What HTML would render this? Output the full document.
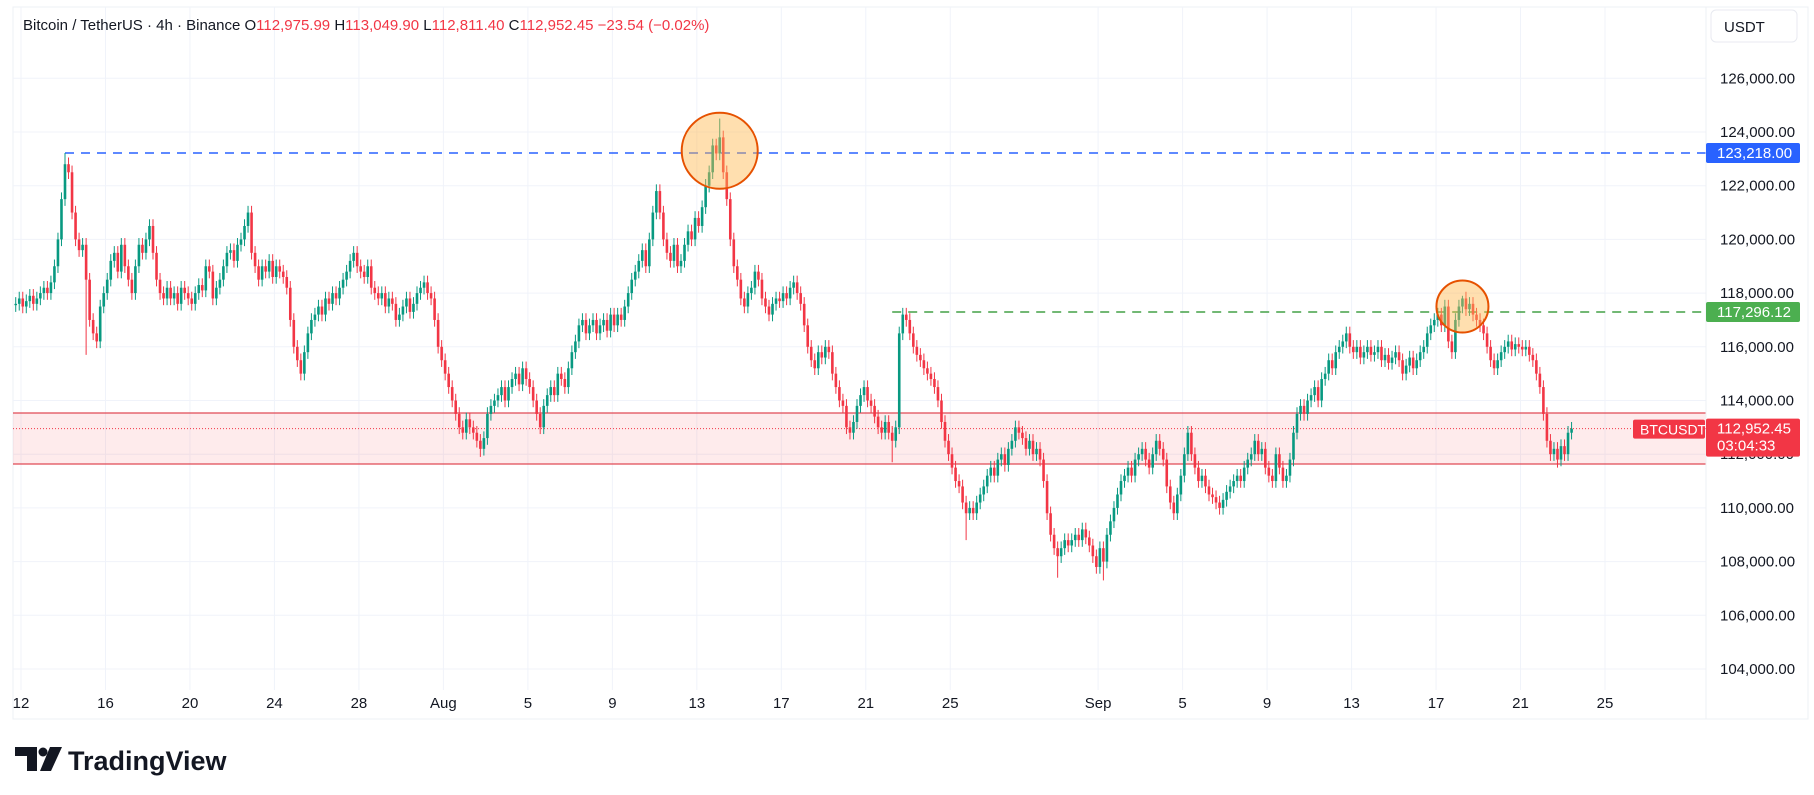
<!DOCTYPE html>
<html><head><meta charset="utf-8"><style>
html,body{margin:0;padding:0;background:#fff;}
body{width:1814px;height:795px;overflow:hidden;position:relative;font-family:"Liberation Sans",sans-serif;}
</style></head><body>
<svg id="chart" width="1814" height="795" xmlns="http://www.w3.org/2000/svg" style="position:absolute;left:0;top:0">
  <rect x="13" y="7" width="1795" height="712" fill="#fff" stroke="#eef0f4"/>
  <g id="grid"></g>
  <g id="zone"></g>
  <g id="levels"></g>
  <g id="candles"></g>
  <g id="marks"></g>
  <line x1="1706" y1="7" x2="1706" y2="719" stroke="#eef0f4"/>
  <g id="yaxis"></g>
  <g id="xaxis"></g>
  <rect x="1711" y="10" width="86" height="32" rx="5" fill="#fff" stroke="#e8eaf0"/>
  <text x="1724" y="32" font-size="15" fill="#131722">USDT</text>
  <text x="23" y="30" font-size="15" fill="#131722">Bitcoin / TetherUS · 4h · Binance <tspan fill="#131722">O</tspan><tspan fill="#f23645">112,975.99</tspan> <tspan fill="#131722">H</tspan><tspan fill="#f23645">113,049.90</tspan> <tspan fill="#131722">L</tspan><tspan fill="#f23645">112,811.40</tspan> <tspan fill="#131722">C</tspan><tspan fill="#f23645">112,952.45</tspan> <tspan fill="#f23645">−23.54 (−0.02%)</tspan></text>
  <g>
    <path d="M15 747 h22 v24 h-10 v-15 h-12 z" fill="#131722"/>
    <circle cx="43" cy="752" r="4.5" fill="#131722"/>
    <path d="M50 747 h12 l-11 24 h-11 z" fill="#131722"/>
    <text x="68" y="770" font-size="27" font-weight="bold" fill="#131722">TradingView</text>
  </g>
</svg>
<script>
// ---- data (prices in hundreds of USDT, 4h candles from Jul 11 16:00) ----
const closesJul11 = [1176,1178];
const dailyCloses = [
[1175,1177,1179,1176,1178,1180],[1182,1180,1184,1190,1200,1215],[1228,1225,1210,1200,1196,1198],
[1185,1170,1165,1162,1175,1180],[1185,1192,1195,1188,1198,1190],[1185,1180,1190,1198,1195,1200],
[1205,1195,1185,1180,1178,1182],[1178,1180,1176,1182,1180,1178],[1176,1180,1183,1181,1190,1188],
[1178,1182,1185,1190,1195,1196],[1192,1198,1200,1205,1210,1195],[1190,1185,1190,1188,1192,1186],
[1190,1188,1186,1182,1170,1160],[1155,1150,1158,1165,1170,1172],[1175,1172,1178,1176,1180,1178],
[1182,1185,1188,1192,1195,1190],[1188,1186,1190,1182,1180,1178],[1180,1175,1178,1176,1170,1172],
[1175,1178,1173,1176,1180,1182],[1184,1180,1178,1170,1160,1155],
[1150,1145,1140,1135,1130,1128],[1133,1130,1128,1125,1122,1126],[1135,1138,1140,1142,1145,1140],
[1145,1148,1150,1146,1152,1148],[1145,1140,1135,1130,1138,1142],[1145,1142,1150,1148,1145,1152],
[1158,1162,1168,1170,1165,1168],[1170,1165,1168,1170,1166,1172],[1168,1172,1170,1175,1180,1185],
[1188,1192,1196,1190,1200,1210],[1218,1210,1200,1195,1192,1198],[1190,1192,1198,1203,1200,1208],
[1205,1212,1220,1225,1235,1232],[1238,1225,1215,1200,1190,1185],[1178,1175,1180,1182,1188,1185],
[1178,1175,1172,1176,1178,1177],[1180,1178,1182,1184,1180,1176],[1168,1160,1155,1152,1158,1156],
[1160,1158,1150,1145,1140,1138],[1130,1128,1132,1138,1142,1145],[1140,1138,1134,1130,1128,1132],
[1128,1125,1130,1165,1172,1170],[1165,1160,1157,1155,1152,1150],[1148,1145,1140,1132,1125,1120],
[1115,1110,1108,1102,1098,1100],[1098,1102,1105,1108,1112,1115],[1112,1118,1120,1116,1122,1125],
[1130,1128,1126,1122,1125,1120],[1122,1118,1110,1098,1090,1085],[1082,1085,1088,1086,1088,1090],
[1088,1092,1089,1086,1082,1078],
[1085,1080,1090,1095,1100,1105],[1110,1112,1115,1112,1118,1120],[1122,1118,1115,1120,1125,1122],
[1118,1108,1102,1098,1105,1112],[1120,1128,1120,1115,1110,1112],[1108,1105,1104,1102,1100,1103],
[1106,1108,1110,1112,1110,1115],[1118,1120,1125,1120,1122,1115],[1112,1110,1120,1115,1110,1112],
[1118,1128,1135,1138,1135,1140],[1142,1145,1140,1148,1150,1155],[1152,1158,1160,1162,1165,1160],
[1158,1160,1156,1158,1160,1157],[1158,1160,1155,1157,1154,1156],[1158,1155,1150,1153,1156,1152],
[1155,1158,1160,1165,1168,1170],[1172,1168,1175,1162,1158,1170],[1175,1178,1174,1176,1172,1170],
[1168,1165,1160,1155,1152,1155],[1158,1160,1162,1159,1161,1160],[1159,1160,1157,1155,1150,1145],
[1135,1125,1120,1122,1118,1123],[1120,1128,1129.5]
];
const wickSize = 2.5;
const highOverrides = {14:1232.2, 200:1245, 411:1179};
const lowOverrides = {132:1119, 249:1117, 270:1088, 296:1074, 309:1073, 438:1115, 20:1157};
const priceTicks = [104000,106000,108000,110000,112000,114000,116000,118000,120000,122000,124000,126000];
const dateTicks = [[0,"12"],[4,"16"],[8,"20"],[12,"24"],[16,"28"],[20,"Aug"],[24,"5"],[28,"9"],[32,"13"],[36,"17"],[40,"21"],[44,"25"],[51,"Sep"],[55,"5"],[59,"9"],[63,"13"],[67,"17"],[71,"21"],[75,"25"]];
const resistanceHigh = 123218.00, resistanceHighStart = 14;
const resistanceMid = 117296.12, resistanceMidStart = 249;
const zoneTop = 113535, zoneBottom = 111635;
const lastPrice = 112952.45;
const circles = [[200,123300],[411,117500]];

// ---- scales ----
const PL=13, PR=1706;
function y(p){return 669-(p-104000)*0.02685;}
function xDay(d){return 21+d*21.12;}
function xIdx(i){return xDay(-1/3+i/6+1/12);}
const NS="http://www.w3.org/2000/svg";
function mk(tag,attrs,parent){const e=document.createElementNS(NS,tag);for(const k in attrs)e.setAttribute(k,attrs[k]);parent.appendChild(e);return e;}

const closes=closesJul11.concat(...dailyCloses).map(v=>v*100);
const grid=document.getElementById('grid');
priceTicks.forEach(p=>{
  const l=mk('line',{x1:PL,x2:PR,y1:y(p),y2:y(p),stroke:'#f0f3fa'},grid);
  
  
});
dateTicks.forEach(t=>{
  const l=mk('line',{x1:xDay(t[0]),x2:xDay(t[0]),y1:7,y2:690,stroke:'#f0f3fa'},grid);
  
  
});
const ya=document.getElementById('yaxis');
priceTicks.forEach(p=>{
  const t=mk('text',{x:1720,y:y(p)+5,'font-size':15,fill:'#131722'},ya);
  t.textContent=p.toLocaleString('en-US',{minimumFractionDigits:2});
  
  
});
const xa=document.getElementById('xaxis');
dateTicks.forEach(d=>{
  const t=mk('text',{x:xDay(d[0]),y:708,'font-size':15,fill:'#131722','text-anchor':'middle'},xa);
  t.textContent=d[1];
  
  
});
// zone
const zg=document.getElementById('zone');
const zr=mk('rect',{x:PL,y:y(zoneTop),width:PR-PL,height:y(zoneBottom)-y(zoneTop),fill:'rgba(242,54,69,0.1)'},zg);


[zoneTop,zoneBottom].forEach(p=>{
  const l=mk('line',{x1:PL,x2:PR,y1:y(p),y2:y(p),stroke:'#e04a55','stroke-width':1.3},zg);
  
  
});
const lv=document.getElementById('levels');
const pl=mk('line',{x1:PL,x2:PR,y1:y(lastPrice),y2:y(lastPrice),stroke:'#f23645','stroke-dasharray':'1 2'},lv);


const bl=mk('line',{x1:xIdx(resistanceHighStart),x2:PR,y1:y(resistanceHigh),y2:y(resistanceHigh),stroke:'#2962ff','stroke-width':1.6,'stroke-dasharray':'9 7'},lv);


const gl=mk('line',{x1:xIdx(resistanceMidStart),x2:PR,y1:y(resistanceMid),y2:y(resistanceMid),stroke:'#43a047','stroke-width':1.6,'stroke-dasharray':'9 7'},lv);


// candles
const cg=document.getElementById('candles');
for(let i=0;i<closes.length;i++){
  const c=closes[i], o=i?closes[i-1]:c-50;
  const up=c>=o, col=up?'#089981':'#f23645';
  const hi=highOverrides[i]!==undefined?highOverrides[i]*100:Math.max(o,c)+wickSize*100;
  const lo=lowOverrides[i]!==undefined?lowOverrides[i]*100:Math.min(o,c)-wickSize*100;
  const x=xIdx(i);
  const w=mk('line',{x1:x,x2:x,y1:y(hi),y2:y(lo),stroke:col,'stroke-width':1},cg);
  
  
  const top=y(Math.max(o,c)), bot=y(Math.min(o,c));
  const b=mk('rect',{x:x-1.3,y:top,width:2.6,height:Math.max(1,bot-top),fill:col},cg);
  
  
}
// circles
const mg=document.getElementById('marks');
circles.forEach((c,k)=>{
  const e=mk('circle',{cx:xIdx(c[0]),cy:y(c[1]),r:k?26:38,fill:'rgba(255,183,77,0.45)',stroke:'#e65100','stroke-width':2},mg);
  
  
});
// labels
function tag(p,color,txt,name,h,sub){
  const g=mk('g',{},ya);
  
  
  const yy=y(p);
  mk('rect',{x:1706,y:yy-10,width:94,height:h,fill:color,rx:2},g);
  const t=mk('text',{x:1717,y:yy+5,'font-size':15,fill:'#fff'},g);t.textContent=txt;
  if(sub){const s=mk('text',{x:1717,y:yy+22,'font-size':15,fill:'#fff'},g);s.textContent=sub;}
}
tag(resistanceHigh,'#2962ff',resistanceHigh.toLocaleString('en-US',{minimumFractionDigits:2}),'resistance-high-label',20);
tag(resistanceMid,'#4caf50',resistanceMid.toLocaleString('en-US',{minimumFractionDigits:2}),'resistance-mid-label',20);
tag(lastPrice,'#f23645',lastPrice.toLocaleString('en-US',{minimumFractionDigits:2}),'last-price-label',38,'03:04:33');
const sg=mk('g',{},document.getElementById('levels'));


mk('rect',{x:1633,y:y(lastPrice)-9,width:72,height:19,fill:'#f23645',rx:2},sg);
const st=mk('text',{x:1640,y:y(lastPrice)+6,'font-size':14,fill:'#fff'},sg);st.textContent='BTCUSDT';
</script>
</body></html>
